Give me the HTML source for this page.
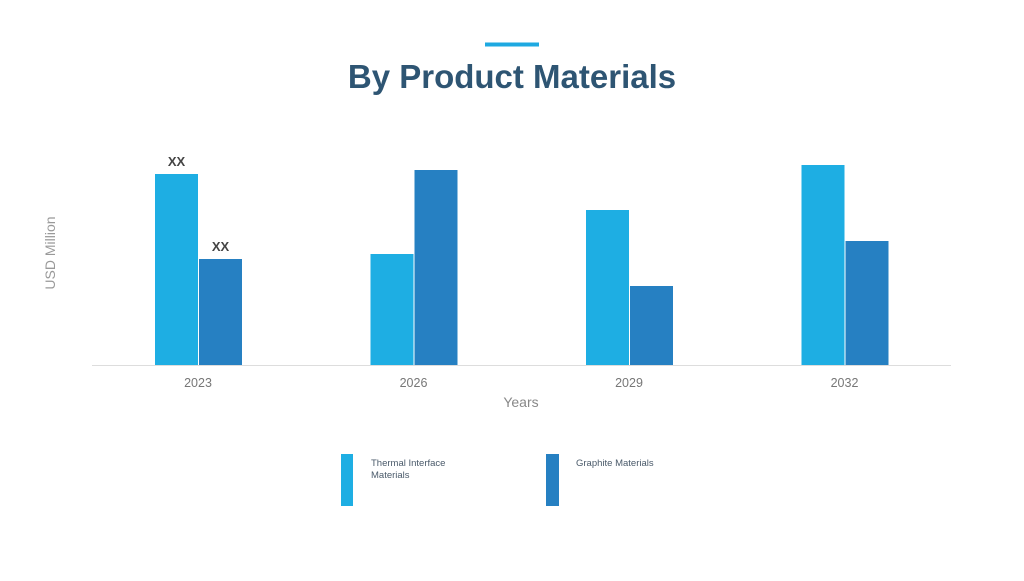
<!DOCTYPE html>
<html><head><meta charset="utf-8"><style>
html,body{margin:0;padding:0;background:#fff;}
body{width:1024px;height:576px;overflow:hidden;position:relative;font-family:"Liberation Sans",sans-serif;}
</style></head><body>
<svg width="1024" height="576" xmlns="http://www.w3.org/2000/svg">
<rect x="485" y="42.5" width="54" height="4" fill="#1ea9e1"/>
<text x="512" y="88" text-anchor="middle" font-size="33" font-weight="bold" fill="#2e5573">By Product Materials</text>
<text transform="translate(55,253) rotate(-90)" text-anchor="middle" font-size="14" fill="#999">USD Million</text>
<line x1="92" y1="365.5" x2="951" y2="365.5" stroke="#ddd" stroke-width="1"/>
<text x="521" y="407" text-anchor="middle" font-size="14" fill="#888">Years</text>
<g id="bars"></g>
<g>
<rect x="341" y="454" width="12" height="52" fill="#1eaee3"/>
<text x="371" y="466" font-size="9.5" fill="#4a5a6a">Thermal Interface</text>
<text x="371" y="478" font-size="9.5" fill="#4a5a6a">Materials</text>
<rect x="546" y="454" width="13" height="52" fill="#2680c2"/>
<text x="576" y="466" font-size="9.5" fill="#4a5a6a">Graphite Materials</text>
</g>
</svg>
<script>
const categories = ["2023","2026","2029","2032"];
const thermalValues = [191,111,155,200];
const graphiteValues = [106,195,79,124];
const valueLabels = ["XX","XX"];
const ns="http://www.w3.org/2000/svg";
const g=document.getElementById("bars");
const baseY=365, x0=198, step=215.5, barW=43, yScale=1;
function xCenter(i){return x0+i*step;}
function yPos(v){return baseY-v*yScale;}
function addRect(x,v,color,name){
  const r=document.createElementNS(ns,"rect");
  r.setAttribute("x",x);r.setAttribute("y",yPos(v));
  r.setAttribute("width",barW);r.setAttribute("height",baseY-yPos(v));
  r.setAttribute("fill",color);
  
  
  g.appendChild(r);
}
function addText(x,y,s,size,color,weight,name){
  const t=document.createElementNS(ns,"text");
  t.setAttribute("x",x);t.setAttribute("y",y);t.setAttribute("text-anchor","middle");
  t.setAttribute("font-size",size);t.setAttribute("fill",color);
  if(weight)t.setAttribute("font-weight",weight);
  t.textContent=s;
  
  
  g.appendChild(t);
}
categories.forEach((c,i)=>{
  const cx=xCenter(i);
  addRect(cx-barW,thermalValues[i],"#1eaee3","bar-thermal-"+c);
  addRect(cx+1,graphiteValues[i],"#2680c2","bar-graphite-"+c);
  addText(cx,387,c,12.5,"#777",null,"x-tick-"+c);
  if(i===0){
    addText(cx-barW/2,yPos(thermalValues[i])-8,valueLabels[0],13,"#444","bold","value-label-thermal-"+c);
    addText(cx+1+barW/2,yPos(graphiteValues[i])-8,valueLabels[1],13,"#444","bold","value-label-graphite-"+c);
  }
});
</script>
</body></html>
